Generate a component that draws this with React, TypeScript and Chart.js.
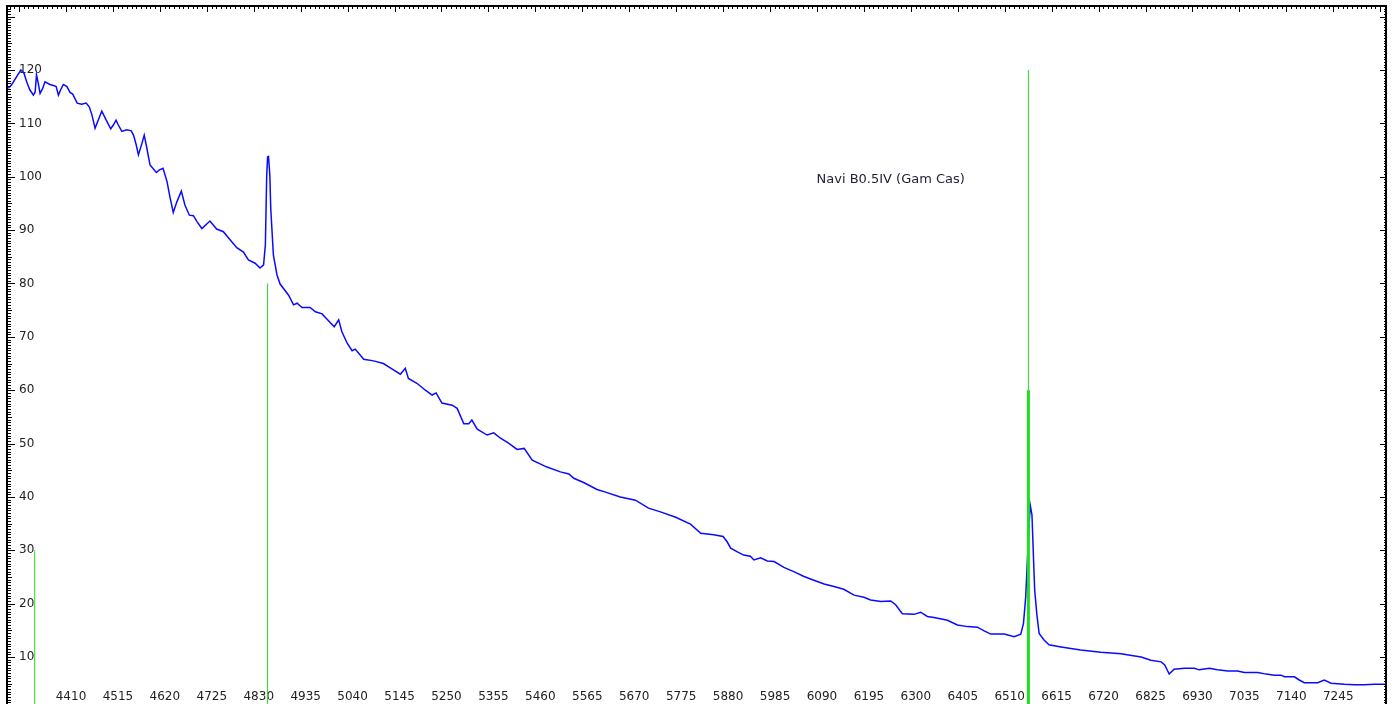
import { useEffect, useRef } from "react";
import { Chart, registerables } from "chart.js";

Chart.register(...registerables);

// ---- data ----
const wavelengths = [
  4281, 4288, 4300, 4309, 4316, 4322, 4329, 4337, 4341, 4344, 4348, 4352, 4358, 4363, 4374, 4382, 4388, 4393, 4398, 4404,
  4412, 4419, 4425, 4435, 4445, 4455, 4462, 4468, 4475, 4482, 4490, 4500, 4510, 4516, 4522, 4527, 4535, 4546, 4556, 4561,
  4567, 4572, 4580, 4585, 4591, 4598, 4612, 4619, 4627, 4636, 4643, 4650, 4658, 4668, 4676, 4686, 4695, 4703, 4714, 4732,
  4747, 4762, 4777, 4792, 4807, 4818, 4833, 4844, 4852, 4856, 4859, 4861, 4863, 4866, 4868, 4874, 4882, 4889, 4908, 4919,
  4927, 4938, 4956, 4968, 4983, 4994, 5010, 5020, 5027, 5039, 5050, 5057, 5076, 5098, 5120, 5139, 5158, 5169, 5176, 5195,
  5214, 5229, 5238, 5251, 5274, 5285, 5300, 5311, 5318, 5330, 5352, 5367, 5382, 5400, 5419, 5435, 5453, 5486, 5516, 5535,
  5546, 5568, 5598, 5617, 5650, 5684, 5713, 5740, 5774, 5807, 5830, 5859, 5880, 5889, 5897, 5912, 5926, 5941, 5949, 5964,
  5979, 5994, 6016, 6038, 6061, 6083, 6106, 6128, 6150, 6173, 6195, 6210, 6233, 6255, 6266, 6281, 6307, 6322, 6337, 6352,
  6382, 6404, 6427, 6449, 6464, 6479, 6509, 6531, 6546, 6552, 6557, 6561, 6564, 6567, 6571, 6573, 6577, 6582, 6587, 6598,
  6609, 6636, 6680, 6725, 6770, 6815, 6837, 6860, 6868, 6878, 6889, 6912, 6934, 6945, 6968, 6986, 7009, 7031, 7046, 7076,
  7095, 7113, 7128, 7136, 7158, 7169, 7180, 7210, 7225, 7240, 7270, 7292, 7315, 7337, 7367,
];
const fluxValues = [
  116.6, 117.2, 118.8, 120.0, 119.4, 117.8, 116.3, 115.3, 115.9, 119.1, 117.5, 115.6, 116.6, 117.8, 117.3, 117.1, 116.9, 115.3, 116.3, 117.3,
  116.9, 115.8, 115.5, 113.8, 113.6, 113.8, 113.1, 111.6, 109.1, 110.6, 112.3, 110.6, 109.0, 109.7, 110.6, 109.7, 108.5, 108.8, 108.6, 107.8,
  106.0, 104.1, 106.3, 107.8, 105.3, 102.2, 100.8, 101.3, 101.6, 99.1, 96.0, 93.3, 95.3, 97.3, 94.7, 92.8, 92.7, 91.6, 90.3, 91.7,
  90.2, 89.7, 88.2, 86.7, 85.9, 84.4, 83.8, 82.9, 83.5, 87.2, 100.3, 103.7, 103.8, 100.3, 94.1, 85.3, 81.6, 79.9, 77.8, 76.0,
  76.3, 75.5, 75.5, 74.7, 74.3, 73.3, 71.9, 73.2, 71.0, 68.8, 67.4, 67.7, 65.8, 65.5, 65.0, 64.0, 63.0, 64.1, 62.2, 61.3,
  60.0, 59.1, 59.5, 57.6, 57.2, 56.6, 53.7, 53.7, 54.4, 52.7, 51.6, 52.0, 51.0, 50.1, 48.9, 49.1, 46.9, 45.6, 44.7, 44.3,
  43.5, 42.7, 41.4, 40.9, 40.0, 39.4, 37.9, 37.2, 36.2, 34.9, 33.2, 32.9, 32.6, 31.6, 30.4, 29.7, 29.1, 28.9, 28.2, 28.6,
  28.0, 27.9, 26.8, 26.0, 25.1, 24.4, 23.7, 23.2, 22.7, 21.6, 21.2, 20.7, 20.4, 20.5, 19.8, 18.1, 18.0, 18.4, 17.6, 17.4,
  16.9, 16.0, 15.7, 15.6, 14.9, 14.3, 14.3, 13.8, 14.3, 16.3, 21.3, 28.6, 33.8, 38.5, 36.6, 31.9, 22.6, 17.9, 14.4, 13.2,
  12.3, 11.9, 11.3, 10.9, 10.6, 10.0, 9.4, 9.1, 8.5, 6.8, 7.7, 7.9, 7.9, 7.6, 7.9, 7.6, 7.4, 7.4, 7.1, 7.1,
  6.8, 6.6, 6.6, 6.3, 6.3, 5.7, 5.2, 5.2, 5.7, 5.1, 4.9, 4.8, 4.8, 4.9, 4.9,
];

// Balmer marker lines (wavelength, marker height)
const markerWavelengths = [4340, 4861, 6563, 6563];
const markerHeights = [30, 80, 120, 60];

const xTickValues = [
  4410, 4515, 4620, 4725, 4830, 4935, 5040, 5145, 5250, 5355, 5460, 5565, 5670, 5775,
  5880, 5985, 6090, 6195, 6300, 6405, 6510, 6615, 6720, 6825, 6930, 7035, 7140, 7245,
];
const yTickValues = [10, 20, 30, 40, 50, 60, 70, 80, 90, 100, 110, 120];

const titleText = "Navi B0.5IV (Gam Cas)";

// ---- layout / style ----
const X_MIN = 4278;
const X_MAX = 7363;
const Y_MIN = 0;
const Y_MAX = 132;
const TITLE_AT = { x: 6089, y: 99.4 };
const FONT = "DejaVu Sans";
const markerLineWidths = [1, 1, 1, 3];

const framePlugin = {
  id: "frame",
  afterDraw(chart: any) {
    const { ctx, chartArea, scales } = chart;
    const { left, right, top, bottom } = chartArea;
    const xs = scales.x;
    const ys = scales.y;
    ctx.save();
    ctx.strokeStyle = "#000";
    ctx.lineWidth = 2;
    ctx.beginPath();
    ctx.moveTo(left, top - 1);
    ctx.lineTo(left, bottom);
    ctx.stroke();
    ctx.beginPath();
    ctx.moveTo(left - 1, top);
    ctx.lineTo(right, top);
    ctx.stroke();
    ctx.beginPath();
    ctx.moveTo(right, top - 1);
    ctx.lineTo(right, bottom);
    ctx.stroke();

    ctx.lineWidth = 1;
    for (let i = 1; i < Y_MAX * 2; i++) {
      const v = i / 2;
      const py = Math.round(ys.getPixelForValue(v)) + 0.5;
      if (py < top + 2) continue;
      const major = v % 10 === 0;
      const mid = v % 5 === 0;
      const len = major ? 8 : mid ? 5 : 4;
      ctx.beginPath();
      ctx.moveTo(left, py);
      ctx.lineTo(left + len, py);
      ctx.stroke();
      const rlen = major ? 6 : 2;
      ctx.beginPath();
      ctx.moveTo(right, py);
      ctx.lineTo(right - rlen, py);
      ctx.stroke();
    }
    const step = (xTickValues[1] - xTickValues[0]) / 10;
    for (let k = -40; k < 400; k++) {
      const v = xTickValues[0] + k * step;
      if (v < X_MIN || v > X_MAX) continue;
      const px = Math.round(xs.getPixelForValue(v)) + 0.5;
      if (px < left + 2 || px > right - 2) continue;
      const major = k % 10 === 0;
      ctx.beginPath();
      ctx.moveTo(px, top);
      ctx.lineTo(px, top + (major ? 6 : 3));
      ctx.stroke();
    }
    ctx.restore();
  },
};

const titlePlugin = {
  id: "spectrumTitle",
  afterDatasetsDraw(chart: any) {
    const { ctx, scales } = chart;
    ctx.save();
    ctx.font = `13px "${FONT}"`;
    ctx.fillStyle = "#22223a";
    ctx.textAlign = "left";
    ctx.textBaseline = "middle";
    ctx.fillText(titleText, scales.x.getPixelForValue(TITLE_AT.x), scales.y.getPixelForValue(TITLE_AT.y));
    ctx.restore();
  },
};

export default function App() {
  const canvasRef = useRef<HTMLCanvasElement | null>(null);

  useEffect(() => {
    const canvas = canvasRef.current;
    if (!canvas) return;
    const spectrum = wavelengths.map((w, i) => ({ x: w, y: fluxValues[i] }));
    const markerSets = markerWavelengths.map((w, i) => ({
      type: "line" as const,
      data: [
        { x: w, y: Y_MIN },
        { x: w, y: markerHeights[i] },
      ],
      borderColor: "#22dd22",
      borderWidth: markerLineWidths[i],
      pointRadius: 0,
      order: 1,
    }));

    const chart = new Chart(canvas, {
      type: "line",
      data: {
        datasets: [
          ...markerSets,
          {
            data: spectrum,
            borderColor: "#0a0aff",
            borderWidth: 1.5,
            pointRadius: 0,
            tension: 0,
            order: 2,
          },
        ],
      },
      options: {
        responsive: false,
        animation: false,
        devicePixelRatio: 1,
        layout: { padding: { left: 7, top: 6, right: 10, bottom: 9.6 } },
        plugins: { legend: { display: false }, tooltip: { enabled: false } },
        scales: {
          x: {
            type: "linear",
            position: { y: 0 },
            min: X_MIN,
            max: X_MAX,
            grid: { display: false, drawTicks: false },
            border: { display: false },
            afterBuildTicks: (scale: any) => {
              scale.ticks = xTickValues.map((v) => ({ value: v }));
            },
            afterFit: (scale: any) => {
              scale.height = 0;
              scale.paddingLeft = 0;
              scale.paddingRight = 0;
              scale.paddingTop = 0;
              scale.paddingBottom = 0;
            },
            ticks: {
              autoSkip: false,
              maxRotation: 0,
              minRotation: 0,
              padding: -20.6,
              labelOffset: 5,
              color: "#222",
              font: { family: FONT, size: 12 },
              callback: (v: any) => String(v),
            },
          },
          y: {
            type: "linear",
            min: Y_MIN,
            max: Y_MAX,
            grid: { display: false, drawTicks: false },
            border: { display: false },
            afterBuildTicks: (scale: any) => {
              scale.ticks = yTickValues.map((v) => ({ value: v }));
            },
            afterFit: (scale: any) => {
              scale.width = 0;
              scale.paddingTop = 0;
              scale.paddingBottom = 0;
              scale.paddingLeft = 0;
              scale.paddingRight = 0;
            },
            ticks: {
              mirror: true,
              padding: 12,
              color: "#222",
              font: { family: FONT, size: 12 },
              callback: (v: any) => String(v),
            },
          },
        },
      },
      plugins: [framePlugin, titlePlugin],
    });
    return () => chart.destroy();
  }, []);

  return (
    <div style={{ position: "absolute", left: 0, top: 0, width: 1396, height: 720, background: "#fff" }}>
      <canvas ref={canvasRef} width={1396} height={720} />
    </div>
  );
}
